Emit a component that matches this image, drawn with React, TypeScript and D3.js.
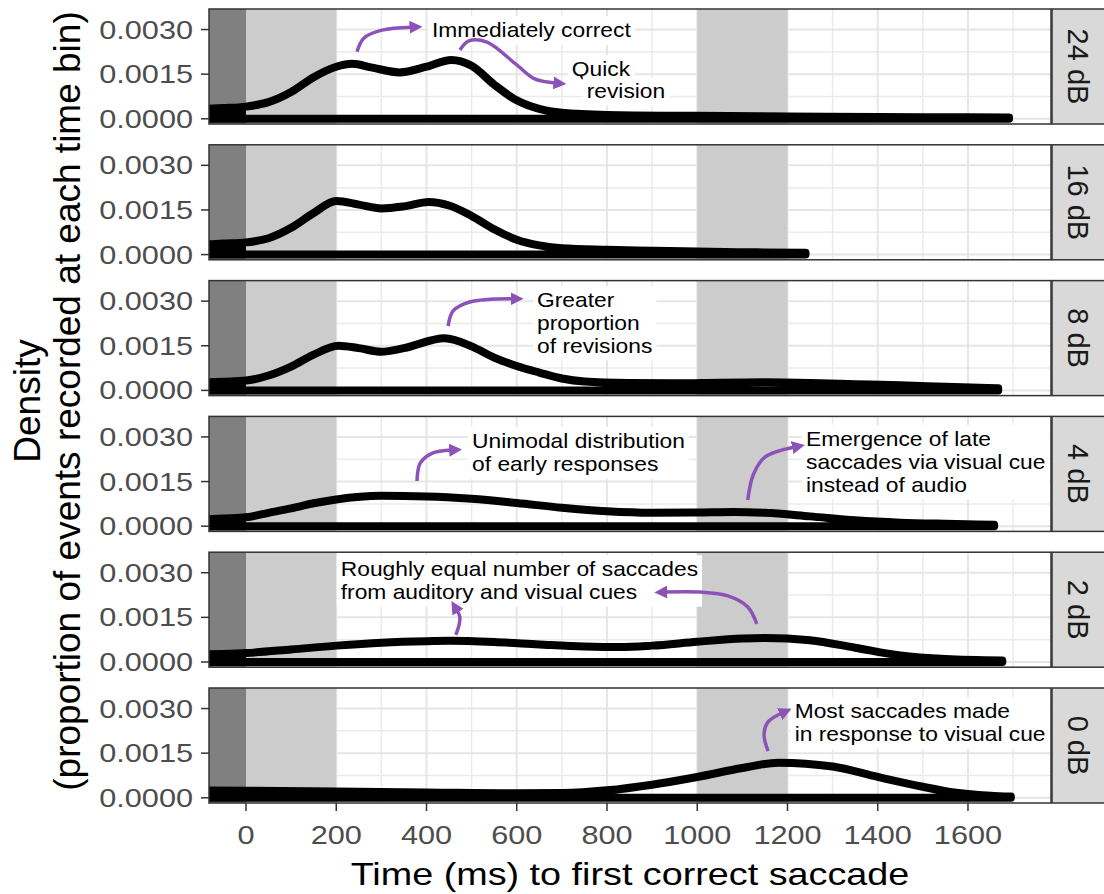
import React, { useRef, useEffect } from 'react';
import * as d3 from 'd3';

const panels = ['24 dB', '16 dB', '8 dB', '4 dB', '2 dB', '0 dB'];
const xTicks = [0, 200, 400, 600, 800, 1000, 1200, 1400, 1600];
const xMinor = [100, 300, 500, 700, 900, 1100, 1300, 1500, 1700];
const yTicks = [0, 0.0015, 0.003];
const yTickLabels = ['0.0000', '0.0015', '0.0030'];
const yMinor = [0.00075, 0.00225];

// shaded windows (ms)
const darkBand = [-Infinity, 0];
const lightBands = [[0, 200], [1000, 1200]];

// density curves [ms, density]
const dens24 = [[-100, 0.00033], [-50, 0.00036], [0, 0.00041], [50, 0.00056], [100, 0.0009], [150, 0.0014], [200, 0.00175], [235, 0.00185], [280, 0.00172], [340, 0.00156], [400, 0.00175], [455, 0.00198], [500, 0.00178], [550, 0.00115], [600, 0.00062], [650, 0.00033], [700, 0.0002], [800, 0.00013], [1000, 0.0001], [1200, 0.00008], [1400, 0.00006], [1600, 0.00005], [1691, 0.00004]];
const dens16 = [[-100, 0.00033], [-50, 0.00037], [0, 0.00041], [50, 0.00055], [100, 0.0009], [150, 0.0014], [200, 0.0018], [250, 0.00168], [300, 0.00155], [350, 0.00162], [405, 0.00177], [450, 0.00165], [500, 0.0013], [550, 0.00085], [600, 0.0005], [650, 0.00031], [700, 0.00021], [800, 0.00016], [900, 0.00013], [1000, 0.0001], [1100, 0.00008], [1240, 0.00006]];
const dens8 = [[-100, 0.00026], [-50, 0.00029], [0, 0.00033], [50, 0.0005], [100, 0.0008], [150, 0.0012], [205, 0.0015], [250, 0.00142], [300, 0.0013], [350, 0.00142], [440, 0.00175], [500, 0.00148], [550, 0.0011], [600, 0.00082], [650, 0.0006], [700, 0.0004], [750, 0.0003], [850, 0.00025], [950, 0.00024], [1050, 0.00026], [1150, 0.00027], [1250, 0.00025], [1350, 0.00021], [1450, 0.00017], [1550, 0.00012], [1667, 0.00007]];
const dens4 = [[-100, 0.00022], [-50, 0.00026], [0, 0.0003], [50, 0.00045], [100, 0.0006], [150, 0.00077], [200, 0.0009], [300, 0.00102], [400, 0.001], [500, 0.00092], [600, 0.00078], [700, 0.00062], [800, 0.0005], [900, 0.00045], [1000, 0.00046], [1080, 0.00048], [1150, 0.00045], [1250, 0.00033], [1350, 0.0002], [1450, 0.00012], [1550, 0.00008], [1658, 0.00005]];
const dens2 = [[-100, 0.00025], [-50, 0.00027], [0, 0.0003], [100, 0.00042], [200, 0.00055], [300, 0.00065], [400, 0.0007], [450, 0.00071], [550, 0.00067], [650, 0.00059], [750, 0.00052], [830, 0.0005], [900, 0.00055], [1000, 0.00068], [1100, 0.00079], [1150, 0.00081], [1250, 0.00073], [1350, 0.00048], [1450, 0.00022], [1550, 0.0001], [1676, 0.00005]];
const dens0 = [[-100, 0.00025], [0, 0.00024], [200, 0.00021], [400, 0.00018], [600, 0.00015], [700, 0.00016], [800, 0.00025], [900, 0.00044], [1000, 0.0007], [1100, 0.001], [1180, 0.00118], [1300, 0.00105], [1400, 0.0007], [1500, 0.00037], [1560, 0.0002], [1650, 0.00007], [1695, 0.00004]];
const densities = [dens24, dens16, dens8, dens4, dens2, dens0];

// annotations: panel index, left x (ms), first baseline (density), lines
const notes = [
  { panel: 0, x: 412, y: 0.00275, lines: ['Immediately correct'] },
  { panel: 0, x: 722, y: 0.00144, lines: ['Quick'] },
  { panel: 0, x: 755, y: 0.0007, lines: ['revision'] },
  { panel: 2, x: 645, y: 0.0028, lines: ['Greater', 'proportion', 'of revisions'] },
  { panel: 3, x: 501, y: 0.00263, lines: ['Unimodal distribution', 'of early responses'] },
  { panel: 3, x: 1241, y: 0.0027, lines: ['Emergence of late', 'saccades via visual cue', 'instead of audio'] },
  { panel: 4, x: 210, y: 0.00289, lines: ['Roughly equal number of saccades', 'from auditory and visual cues'] },
  { panel: 5, x: 1216, y: 0.00268, lines: ['Most saccades made', 'in response to visual cue'] },
];

// arrow paths: points along each arrow [ms, density]
const arrows = [
  { panel: 0, pts: [[246, 0.00225], [261, 0.00271], [301, 0.00298], [368, 0.00308]] },
  { panel: 0, pts: [[474, 0.00231], [494, 0.00262], [534, 0.00258], [600, 0.00181], [640, 0.00134], [687, 0.0012]] },
  { panel: 2, pts: [[448, 0.00216], [459, 0.00267], [496, 0.00297], [592, 0.00308]] },
  { panel: 3, pts: [[379, 0.00152], [386, 0.00212], [412, 0.00245], [456, 0.00256]] },
  { panel: 3, pts: [[1112, 0.00088], [1124, 0.00172], [1150, 0.00232], [1216, 0.00266]] },
  { panel: 4, pts: [[465, 0.00091], [472, 0.00124], [474, 0.00151], [467, 0.00175]] },
  { panel: 4, pts: [[1132, 0.00128], [1112, 0.00185], [1068, 0.00222], [1006, 0.00235], [928, 0.00235]] },
  { panel: 5, pts: [[1157, 0.00157], [1148, 0.00212], [1157, 0.00255], [1188, 0.00285]] },
];

const FONT = '"Liberation Sans", Arial, sans-serif';
const PURPLE = '#8c52b8';

export default function App() {
  const ref = useRef(null);

  useEffect(() => {
    const svg = d3.select(ref.current);
    svg.selectAll('*').remove();

    const left = 209, right = 1051, top0 = 9, ph = 115, step = 135.8;
    const x = d3.scaleLinear().domain([-82, 1784]).range([left, right]);

    // text helper; sx widens glyphs horizontally to match the source's wide face
    const stext = (g, tx, ty, str, size, anchor = 'start', fill = '#000', sx = 1.18, rot = 0) =>
      g.append('text')
        .attr('transform', `translate(${tx},${ty}) scale(${sx},1)${rot ? ` rotate(${rot})` : ''}`)
        .attr('font-family', FONT).attr('font-size', size)
        .attr('text-anchor', anchor).attr('fill', fill).text(str);

    const defs = svg.append('defs');
    defs.append('marker').attr('id', 'ah')
      .attr('viewBox', '0 0 10 10').attr('refX', 2).attr('refY', 5)
      .attr('markerWidth', 13).attr('markerHeight', 13)
      .attr('markerUnits', 'userSpaceOnUse').attr('orient', 'auto')
      .append('path').attr('d', 'M0,0 L10,5 L0,10 z').attr('fill', PURPLE);

    panels.forEach((label, i) => {
      const top = top0 + i * step;
      const y = d3.scaleLinear().domain([-0.000175, 0.00369]).range([top + ph, top]);
      const g = svg.append('g');

      defs.append('clipPath').attr('id', `clip${i}`)
        .append('rect').attr('x', left).attr('y', top).attr('width', right - left).attr('height', ph);

      g.append('rect').attr('x', left).attr('y', top).attr('width', right - left).attr('height', ph).attr('fill', '#fff');

      // grid
      xMinor.forEach(v => g.append('line').attr('x1', x(v)).attr('x2', x(v)).attr('y1', top).attr('y2', top + ph)
        .attr('stroke', '#ebebeb').attr('stroke-width', 1.5));
      yMinor.forEach(v => g.append('line').attr('x1', left).attr('x2', right).attr('y1', y(v)).attr('y2', y(v))
        .attr('stroke', '#ebebeb').attr('stroke-width', 1.5));
      xTicks.forEach(v => g.append('line').attr('x1', x(v)).attr('x2', x(v)).attr('y1', top).attr('y2', top + ph)
        .attr('stroke', '#e6e6e6').attr('stroke-width', 2));
      yTicks.forEach(v => g.append('line').attr('x1', left).attr('x2', right).attr('y1', y(v)).attr('y2', y(v))
        .attr('stroke', '#e6e6e6').attr('stroke-width', 2));

      // shaded windows
      g.append('rect').attr('x', left).attr('y', top).attr('width', x(darkBand[1]) - left).attr('height', ph).attr('fill', '#808080');
      lightBands.forEach(b => g.append('rect').attr('x', x(b[0])).attr('y', top).attr('width', x(b[1]) - x(b[0])).attr('height', ph).attr('fill', '#cccccc'));

      // label boxes + text
      notes.filter(n => n.panel === i).forEach(n => {
        const tg = g.append('g');
        n.lines.forEach((ln, k) => stext(tg, x(n.x), y(n.y) + k * 23, ln, 20, 'start', '#000', 1.14));
        const bb = tg.node().getBBox();
        tg.insert('rect', ':first-child')
          .attr('x', bb.x - 4).attr('y', bb.y - 3).attr('width', bb.width + 8).attr('height', bb.height + 6).attr('fill', '#fff');
      });

      // density outline
      const data = densities[i];
      const area = d3.area().x(d => x(d[0])).y0(y(0)).y1(d => y(d[1])).curve(d3.curveMonotoneX);
      const dg = g.append('g').attr('clip-path', `url(#clip${i})`);
      dg.append('path').attr('d', area(data.filter(d => d[0] <= 0))).attr('fill', '#000');
      dg.append('path').attr('d', area(data)).attr('fill', 'none').attr('stroke', '#000')
        .attr('stroke-width', 8).attr('stroke-linejoin', 'round').attr('stroke-linecap', 'round');

      // arrows
      const line = d3.line().x(d => x(d[0])).y(d => y(d[1])).curve(d3.curveCatmullRom.alpha(0.5));
      arrows.filter(a => a.panel === i).forEach(a => {
        g.append('path').attr('d', line(a.pts)).attr('fill', 'none').attr('stroke', PURPLE)
          .attr('stroke-width', 3.5).attr('marker-end', 'url(#ah)');
      });

      // border
      g.append('rect').attr('x', left).attr('y', top).attr('width', right - left).attr('height', ph)
        .attr('fill', 'none').attr('stroke', '#333').attr('stroke-width', 1.5);

      // strip
      g.append('rect').attr('x', right + 1).attr('y', top).attr('width', 70).attr('height', ph)
        .attr('fill', '#d9d9d9').attr('stroke', '#333').attr('stroke-width', 1.5);
      stext(g, 1078, top + ph / 2, label, 29, 'middle', '#1a1a1a', 1, 90).attr('dy', '0.35em');

      // y axis
      yTicks.forEach((v, k) => {
        g.append('line').attr('x1', left - 8).attr('x2', left).attr('y1', y(v)).attr('y2', y(v))
          .attr('stroke', '#333').attr('stroke-width', 1.5);
        stext(g, 193, y(v) + 9, yTickLabels[k], 26, 'end', '#4d4d4d');
      });
    });

    // x axis
    const bottom = top0 + 5 * step + ph;
    xTicks.forEach(v => {
      svg.append('line').attr('x1', x(v)).attr('x2', x(v)).attr('y1', bottom).attr('y2', bottom + 8)
        .attr('stroke', '#333').attr('stroke-width', 1.5);
      stext(svg, x(v), 844, String(v), 26, 'middle', '#4d4d4d');
    });

    stext(svg, (left + right) / 2, 885, 'Time (ms) to first correct saccade', 32, 'middle');
    const midY = 401;
    stext(svg, 40, midY, 'Density', 37, 'middle', '#000', 1, -90);
    stext(svg, 80, midY, '(proportion of events recorded at each time bin)', 37, 'middle', '#000', 1, -90);
  }, []);

  return (
    <svg ref={ref} width={1104} height={894}
      style={{ position: 'absolute', left: 0, top: 0, background: '#fff' }} />
  );
}
